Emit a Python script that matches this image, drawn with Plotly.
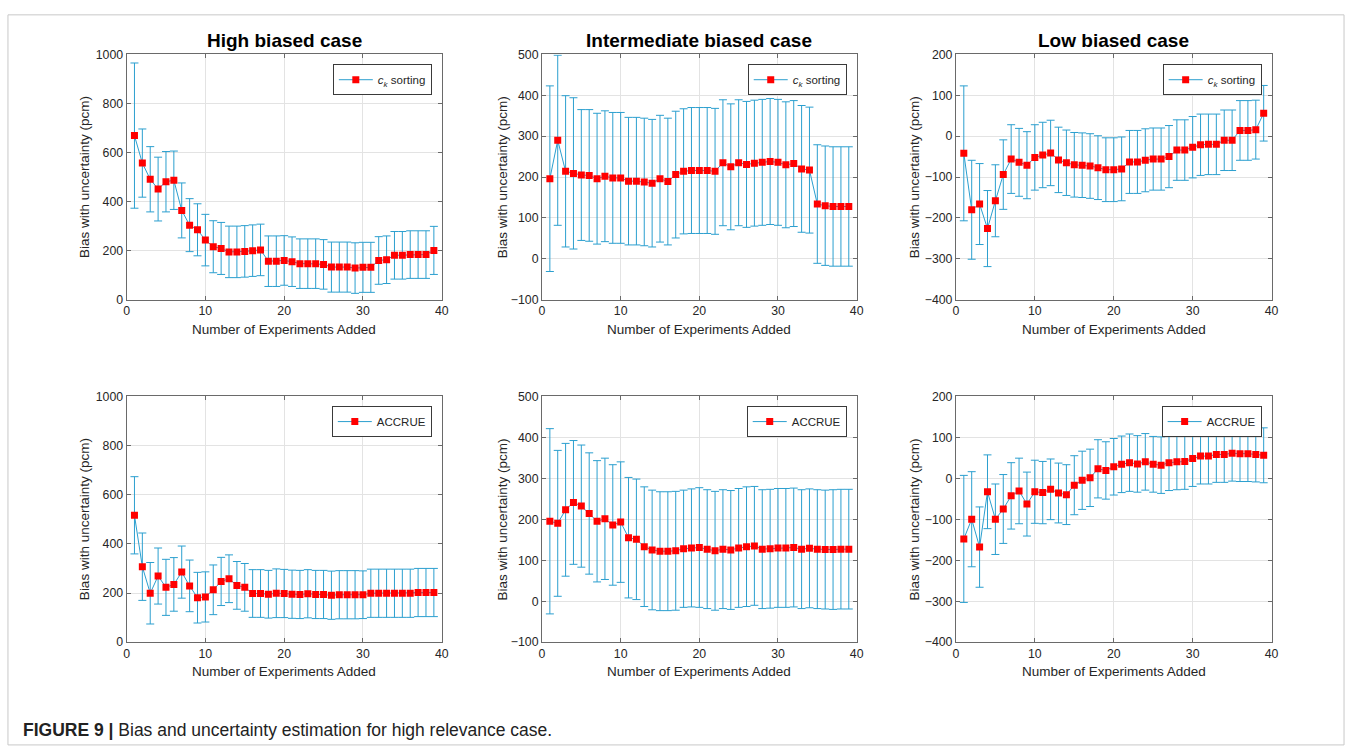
import plotly.graph_objects as go

W, H = 1356, 748

# Number of experiments added (x values shared by all panels)
experiments = list(range(1, 40))

# High biased case
high_ck_bias = [669, 557, 491, 451, 481, 487, 364, 304, 285, 243, 216, 209, 195, 195, 197, 200, 203,
                157, 157, 160, 155, 147, 147, 147, 144, 133, 133, 133, 129, 132, 132, 160, 163, 181,
                181, 184, 184, 184, 201]
high_ck_unc = [296, 139, 133, 130, 123, 119, 112, 108, 106, 105, 106, 106, 105, 105, 105, 105, 105,
               103, 103, 101, 101, 101, 101, 101, 101, 102, 102, 102, 103, 102, 102, 97, 97, 97,
               97, 97, 97, 97, 98]
high_accrue_bias = [516, 307, 199, 269, 223, 235, 285, 229, 181, 184, 213, 247, 258, 231, 223, 198, 198,
                    195, 199, 198, 195, 194, 197, 194, 194, 191, 193, 193, 193, 193, 199, 199, 199, 199,
                    199, 199, 202, 202, 202]
high_accrue_unc = [157, 137, 125, 114, 114, 109, 106, 105, 103, 102, 101, 98, 97, 97, 97, 97, 97,
                   97, 99, 98, 98, 98, 98, 98, 98, 98, 98, 98, 98, 97, 98, 98, 98, 98,
                   98, 98, 98, 98, 98]

# Intermediate biased case
inter_ck_bias = [196, 290, 214, 209, 205, 204, 196, 202, 198, 198, 190, 190, 188, 185, 196, 189, 206,
                 214, 216, 216, 216, 214, 235, 225, 235, 231, 234, 236, 238, 236, 230, 233, 220, 217,
                 134, 130, 128, 128, 128]
inter_ck_unc = [227, 208, 185, 185, 160, 161, 160, 160, 160, 160, 156, 156, 156, 156, 155, 155, 155,
                153, 154, 154, 154, 154, 154, 154, 154, 154, 154, 154, 154, 154, 154, 154, 155, 154,
                145, 146, 146, 146, 146]
inter_accrue_bias = [195, 190, 223, 241, 232, 214, 195, 201, 186, 193, 155, 151, 133, 125, 122, 122, 123,
                     128, 130, 131, 127, 123, 127, 125, 130, 133, 135, 127, 128, 130, 130, 131, 127, 129,
                     127, 126, 126, 127, 127]
inter_accrue_unc = [226, 178, 162, 151, 149, 148, 148, 148, 147, 147, 147, 147, 146, 146, 145, 145, 145,
                    143, 144, 146, 145, 145, 145, 145, 145, 146, 145, 145, 145, 145, 145, 145, 145, 145,
                    145, 145, 146, 146, 146]

# Low biased case
low_ck_bias = [-42, -180, -166, -226, -158, -94, -56, -64, -71, -52, -46, -41, -58, -65, -70, -71, -73,
               -77, -82, -82, -80, -63, -63, -59, -56, -56, -50, -34, -34, -27, -21, -20, -20, -10,
               -10, 14, 14, 16, 56]
low_ck_unc = [165, 121, 99, 93, 88, 85, 84, 83, 82, 80, 80, 80, 80, 80, 79, 79, 79,
              78, 78, 78, 78, 77, 77, 77, 76, 76, 76, 74, 74, 75, 75, 74, 74, 74,
              74, 73, 73, 72, 68]
low_accrue_bias = [-148, -100, -168, -33, -100, -75, -43, -31, -63, -33, -35, -27, -36, -40, -17, -5, 1,
                   23, 19, 28, 34, 38, 35, 40, 34, 32, 38, 40, 41, 48, 54, 54, 58, 58,
                   61, 60, 60, 58, 56]
low_accrue_unc = [155, 116, 98, 90, 86, 84, 81, 80, 78, 77, 76, 74, 73, 73, 72, 71, 70,
                  71, 70, 69, 69, 70, 69, 69, 68, 69, 68, 68, 68, 68, 68, 68, 68, 68,
                  68, 68, 68, 67, 67]

case_titles = ["High biased case", "Intermediate biased case", "Low biased case"]
method_names = ["<i>c</i><sub><i>k</i></sub> sorting", "ACCRUE"]
x_ticks = [0, 10, 20, 30, 40]
y_ranges = [[0, 1000], [-100, 500], [-400, 200]]
y_dticks = [200, 100, 100]

panels = [
    (high_ck_bias, high_ck_unc), (inter_ck_bias, inter_ck_unc), (low_ck_bias, low_ck_unc),
    (high_accrue_bias, high_accrue_unc), (inter_accrue_bias, inter_accrue_unc), (low_accrue_bias, low_accrue_unc),
]

# pixel geometry of the axes boxes
col_px = [(124.5, 442.0), (543.0, 860.0), (960.0, 1278.0)]
row_px = [(48.3, 298.3), (396.7, 647.3)]
ylabel_offset = [43, 40, 42]

FONT = "Liberation Sans, Arial, Helvetica, sans-serif"
LINE_BLUE = "#2b9fcf"
AXIS_GREY = "#6a6a6a"
TEXT = "#262626"


def px_x(v):
    return v / W


def px_y(v):
    return 1 - v / H


fig = go.Figure()
annotations = []

for i, (bias, unc) in enumerate(panels):
    r, c = divmod(i, 3)
    n = i + 1
    suffix = "" if n == 1 else str(n)
    xa, ya, lg = "x" + suffix, "y" + suffix, "legend" + suffix
    x0, x1 = col_px[c]
    y0, y1 = row_px[r]

    fig.add_trace(go.Scatter(
        x=experiments, y=bias,
        mode="lines+markers",
        name=method_names[r],
        line=dict(color=LINE_BLUE, width=1),
        marker=dict(symbol="square", size=7, color="#ff0000", line=dict(width=0)),
        error_y=dict(type="data", array=unc, symmetric=True, color=LINE_BLUE, thickness=1, width=4),
        xaxis=xa, yaxis=ya, legend=lg, showlegend=True,
    ))

    common = dict(
        showline=True, linecolor=AXIS_GREY, linewidth=1, mirror="ticks",
        ticks="inside", ticklen=4, tickcolor=AXIS_GREY,
        showgrid=True, gridcolor="#e3e3e3", gridwidth=1, zeroline=False,
        tickfont=dict(family=FONT, size=12.3, color=TEXT),
    )
    fig.update_layout(**{
        "xaxis" + suffix: dict(domain=[px_x(x0), px_x(x1)], anchor=ya, range=[0, 40],
                               tickvals=x_ticks, **common),
        "yaxis" + suffix: dict(domain=[px_y(y1), px_y(y0)], anchor=xa, range=y_ranges[c],
                               dtick=y_dticks[c], **common),
        lg: dict(x=px_x(x1 - 10), y=px_y(y0 + 10), xanchor="right", yanchor="top",
                 bgcolor="white", bordercolor="#3a3a3a", borderwidth=1,
                 font=dict(family=FONT, size=11.5, color=TEXT), itemwidth=34,
                 tracegroupgap=0),
    })

    # axis titles
    annotations.append(dict(
        text="Number of Experiments Added", x=px_x((x0 + x1) / 2), y=px_y(y1 + 30),
        xref="paper", yref="paper", showarrow=False, xanchor="center", yanchor="middle",
        font=dict(family=FONT, size=13.5, color=TEXT)))
    annotations.append(dict(
        text="Bias with uncertainty (pcm)", x=px_x(x0 - ylabel_offset[c]), y=px_y((y0 + y1) / 2),
        xref="paper", yref="paper", showarrow=False, textangle=-90, xanchor="center", yanchor="middle",
        font=dict(family=FONT, size=13.5, color=TEXT)))
    if r == 0:
        annotations.append(dict(
            text="<b>%s</b>" % case_titles[c], x=px_x((x0 + x1) / 2), y=px_y(34),
            xref="paper", yref="paper", showarrow=False, xanchor="center", yanchor="middle",
            font=dict(family=FONT, size=19, color="#000000")))

annotations.append(dict(
    text="<b>FIGURE 9 |</b> Bias and uncertainty estimation for high relevance case.",
    x=px_x(18), y=px_y(737), xref="paper", yref="paper", showarrow=False,
    xanchor="left", yanchor="middle", font=dict(family=FONT, size=17.5, color="#222222")))

fig.update_layout(
    width=W, height=H, autosize=False,
    margin=dict(l=0, r=0, t=0, b=0),
    paper_bgcolor="white", plot_bgcolor="white",
    annotations=annotations,
    shapes=[dict(type="rect", xref="paper", yref="paper",
                 x0=px_x(5), x1=px_x(1351), y0=px_y(752), y1=px_y(8),
                 line=dict(color="#c8c8c8", width=1), fillcolor="rgba(0,0,0,0)", layer="below")],
)

fig.write_html("out.html")
